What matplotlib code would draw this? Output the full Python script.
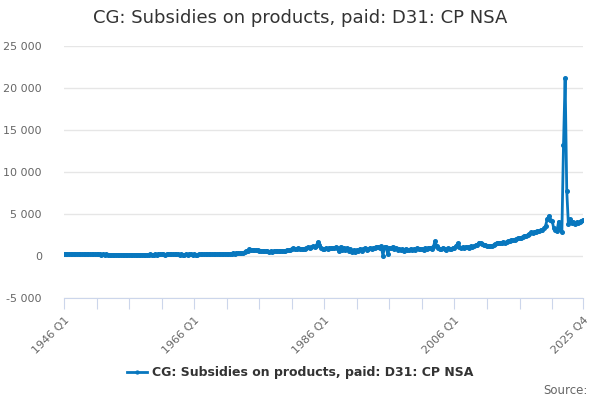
import matplotlib

matplotlib.use("Agg")
import matplotlib.pyplot as plt
from matplotlib.ticker import FuncFormatter

# quarterly values, one row per year (Q1..Q4)
vals_1946_1965 = [
    220, 240, 210, 230,
    250, 230, 240, 260,
    240, 250, 230, 220,
    230, 210, 220, 200,
    210, 190, 200, 210,
    180, 200, 190, 170,
    190, 170, 180, 160,
    170, 150, 160, 170,
    150, 160, 140, 150,
    140, 130, 150, 140,
    130, 150, 140, 160,
    150, 140, 160, 150,
    160, 150, 170, 160,
    170, 180, 160, 170,
    180, 170, 190, 180,
    190, 180, 170, 190,
    180, 190, 200, 180,
    190, 200, 180, 170,
    180, 170, 160, 180,
    170, 180, 190, 170,
]
vals_1966_1985 = [
    180, 160, 170, 190,
    200, 210, 190, 220,
    230, 220, 240, 210,
    220, 230, 210, 240,
    230, 250, 240, 260,
    250, 270, 260, 290,
    300, 280, 320, 340,
    310, 350, 380, 420,
    550, 650, 780, 720,
    760, 700, 680, 720,
    650, 620, 600, 580,
    560, 540, 520, 550,
    530, 560, 580, 540,
    570, 600, 620, 590,
    620, 700, 660, 740,
    860, 900, 840, 880,
    900, 850, 820, 860,
    880, 920, 1050, 980,
    1050, 1150, 1100, 1200,
    1650, 1350, 950, 800,
]
vals_1986_2005 = [
    850, 900, 880, 950,
    920, 1000, 980, 1050,
    980, 650, 1100, 700,
    950, 750, 900, 650,
    850, 500, 700, 450,
    700, 600, 850, 650,
    800, 900, 750, 850,
    950, 800, 900, 1000,
    1050, 1100, 1000, 1150,
    50, 1100, 1050, 200,
    1000, 950, 1100, 800,
    900, 750, 850, 700,
    800, 650, 850, 700,
    750, 850, 700, 800,
    750, 900, 800, 850,
    800, 750, 900, 850,
    900, 1000, 850, 1100,
    1750, 1200, 900, 800,
    850, 1000, 800, 750,
    900, 800, 850, 950,
]
vals_2006_2025 = [
    1000, 1200, 1500, 1100,
    1000, 1050, 950, 1100,
    1050, 1000, 1150, 1100,
    1200, 1300, 1350, 1600,
    1500, 1450, 1300, 1350,
    1250, 1200, 1250, 1200,
    1300, 1400, 1550, 1500,
    1600, 1550, 1650, 1600,
    1700, 1750, 1800, 1850,
    1900, 1850, 2000, 2100,
    2200, 2200, 2300, 2350,
    2400, 2500, 2650, 2800,
    2750, 2850, 2900, 2950,
    3000, 3100, 3050, 3300,
    3600, 4400, 4750, 4300,
    4200, 3300, 3100, 3000,
    4100, 3200, 2800, 13200,
    21150, 7770, 3800, 4400,
    3900, 4000, 3800, 4000,
    3900, 4100, 4200, 4300,
]
values = vals_1946_1965 + vals_1966_1985 + vals_1986_2005 + vals_2006_2025
first_year = 1946
labels = [f"{first_year + i // 4} Q{i % 4 + 1}" for i in range(len(values))]
name = "CG: Subsidies on products, paid: D31: CP NSA"

blue = "#0877be"
fig = plt.figure(figsize=(6, 4), dpi=100)
ax = fig.add_axes([0.1067, 0.255, 0.865, 0.63])

x = list(range(len(values)))
ax.plot(x, values, color=blue, lw=2, marker="o", ms=2.6, label=name)

for s in ["top", "right", "left"]:
    ax.spines[s].set_visible(False)
ax.spines["bottom"].set_color("#ccd6eb")

ax.set_xlim(0, len(values) - 1)
ax.set_ylim(-5000, 25000)
ax.set_yticks(range(-5000, 25001, 5000))
ax.yaxis.set_major_formatter(
    FuncFormatter(lambda v, p: f"{int(v):,}".replace(",", " ")))
ax.grid(axis="y", color="#e6e6e6", lw=1)
ax.set_axisbelow(True)

ticks = list(range(0, len(values), 20)) + [len(values) - 1]
ax.set_xticks(ticks)
shown = {0, 80, 160, 240, len(values) - 1}
ax.set_xticklabels([labels[t] if t in shown else "" for t in ticks],
                   rotation=45, ha="right", rotation_mode="anchor")

ax.tick_params(axis="x", length=8, color="#ccd6eb", labelsize=8,
               labelcolor="#666666", pad=4)
ax.tick_params(axis="y", length=0, labelsize=8, labelcolor="#666666", pad=16)

fig.text(0.5, 0.955, name, ha="center", va="center", fontsize=13,
         color="#333333")
leg = fig.legend(loc="center", bbox_to_anchor=(0.5, 0.068), frameon=False,
                 prop={"size": 9, "weight": "bold"}, handlelength=1.6,
                 handletextpad=0.4, markerscale=0.8)
for t in leg.get_texts():
    t.set_color("#333333")
fig.text(0.98, 0.025, "Source:", ha="right", va="center", fontsize=8.5,
         color="#666666")

fig.savefig("out.png", dpi=100)
